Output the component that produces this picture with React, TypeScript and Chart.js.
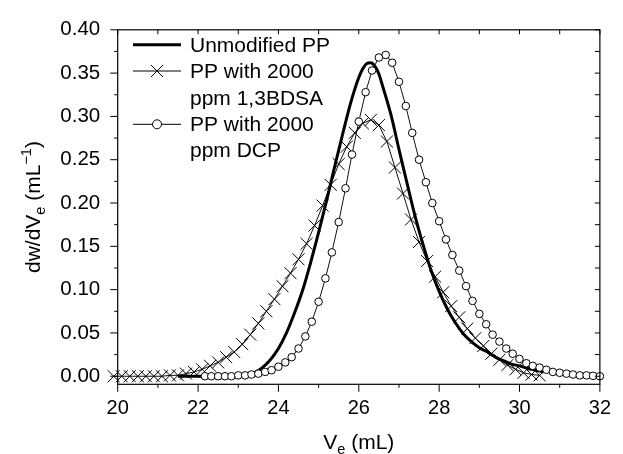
import React, { useEffect, useRef } from 'react';
import { Chart, registerables } from 'chart.js';

Chart.register(...registerables);

// ---------- data ----------
const seriesNames = ['Unmodified PP', 'PP with 2000 ppm 1,3BDSA', 'PP with 2000 ppm DCP'];
const legendLines = [['Unmodified PP'], ['PP with 2000', 'ppm 1,3BDSA'], ['PP with 2000', 'ppm DCP']];

const unmodX = [21.5, 22.0, 22.5, 23.0, 23.2, 23.4, 23.6, 23.8, 24.0, 24.2, 24.4, 24.6, 24.8, 25.0, 25.2, 25.4, 25.6, 25.8, 26.0, 26.1, 26.2, 26.3, 26.4, 26.5, 26.6, 26.8, 27.0, 27.2, 27.4, 27.6, 27.8, 28.0, 28.2, 28.4, 28.6, 28.8, 29.0, 29.2, 29.4, 29.6, 29.8, 30.0, 30.2, 30.4, 30.6];
const unmodY = [0, 0, 0, 0, 0.001, 0.004, 0.010, 0.019, 0.032, 0.050, 0.073, 0.099, 0.131, 0.166, 0.203, 0.242, 0.280, 0.316, 0.345, 0.355, 0.361, 0.362, 0.358, 0.349, 0.334, 0.302, 0.262, 0.223, 0.185, 0.152, 0.122, 0.098, 0.078, 0.062, 0.049, 0.040, 0.033, 0.028, 0.022, 0.018, 0.014, 0.012, 0.009, 0.007, 0.005];

const bdsaX = [19.9, 20.1, 20.3, 20.5, 20.7, 20.9, 21.1, 21.3, 21.5, 21.7, 21.9, 22.1, 22.3, 22.5, 22.7, 22.9, 23.1, 23.3, 23.5, 23.7, 23.9, 24.1, 24.3, 24.5, 24.7, 24.9, 25.1, 25.3, 25.5, 25.7, 25.9, 26.1, 26.3, 26.5, 26.7, 26.9, 27.1, 27.3, 27.5, 27.7, 27.9, 28.1, 28.3, 28.5, 28.7, 28.9, 29.1, 29.3, 29.5, 29.7, 29.9, 30.1, 30.3, 30.5];
const bdsaY = [0, 0, 0, 0, 0, 0, 0, 0.001, 0.001, 0.003, 0.005, 0.008, 0.012, 0.016, 0.022, 0.028, 0.037, 0.048, 0.061, 0.075, 0.089, 0.104, 0.119, 0.135, 0.153, 0.174, 0.197, 0.221, 0.245, 0.265, 0.281, 0.292, 0.296, 0.290, 0.271, 0.241, 0.211, 0.181, 0.155, 0.133, 0.115, 0.097, 0.081, 0.068, 0.055, 0.044, 0.035, 0.026, 0.019, 0.013, 0.008, 0.004, 0.002, 0.001];

const dcpX = [22.17, 22.33, 22.50, 22.67, 22.83, 23.00, 23.17, 23.33, 23.50, 23.67, 23.83, 24.00, 24.17, 24.33, 24.50, 24.67, 24.83, 25.00, 25.17, 25.33, 25.50, 25.67, 25.83, 26.00, 26.17, 26.33, 26.50, 26.67, 26.83, 27.00, 27.17, 27.33, 27.50, 27.67, 27.83, 28.00, 28.17, 28.33, 28.50, 28.67, 28.83, 29.00, 29.17, 29.33, 29.50, 29.67, 29.83, 30.00, 30.17, 30.33, 30.50, 30.67, 30.83, 31.00, 31.17, 31.33, 31.50, 31.67, 31.83, 32.00];
const dcpY = [0, 0, 0, 0, 0, 0.001, 0.001, 0.002, 0.003, 0.005, 0.007, 0.011, 0.016, 0.022, 0.032, 0.046, 0.063, 0.086, 0.113, 0.143, 0.178, 0.217, 0.256, 0.294, 0.328, 0.353, 0.368, 0.371, 0.362, 0.340, 0.312, 0.281, 0.250, 0.224, 0.200, 0.179, 0.158, 0.140, 0.122, 0.104, 0.087, 0.072, 0.060, 0.048, 0.040, 0.032, 0.026, 0.020, 0.015, 0.012, 0.010, 0.0075, 0.005, 0.004, 0.003, 0.002, 0.001, 0.001, 0.0005, 0];

const xTicks = [20, 22, 24, 26, 28, 30, 32];
const xMinorTicks = [21, 23, 25, 27, 29, 31];
const yTicks = [0, 0.05, 0.10, 0.15, 0.20, 0.25, 0.30, 0.35, 0.40];
const yMinorTicks = [0.025, 0.075, 0.125, 0.175, 0.225, 0.275, 0.325, 0.375];

const FONT = '"Liberation Sans", Arial, Helvetica, sans-serif';
const TEXT_SIZE = 21;

type Part = { t: string; size: number; dy: number };

function richWidth(ctx: CanvasRenderingContext2D, parts: Part[]) {
  let w = 0;
  for (const p of parts) {
    ctx.font = `${p.size}px ${FONT}`;
    w += ctx.measureText(p.t).width;
  }
  return w;
}
function drawRich(ctx: CanvasRenderingContext2D, parts: Part[], cx: number, baseY: number) {
  let x = cx - richWidth(ctx, parts) / 2;
  ctx.textAlign = 'left';
  ctx.textBaseline = 'alphabetic';
  for (const p of parts) {
    ctx.font = `${p.size}px ${FONT}`;
    ctx.fillText(p.t, x, baseY + p.dy);
    x += ctx.measureText(p.t).width;
  }
}

const decorPlugin = {
  id: 'decor',
  afterDatasetsDraw(chart: any) {
    const { ctx, chartArea: a, scales } = chart;
    const xs = scales.x;
    const ys = scales.y;
    ctx.save();
    ctx.strokeStyle = '#000';
    ctx.lineWidth = 1.2;
    ctx.strokeRect(a.left, a.top, a.right - a.left, a.bottom - a.top);

    ctx.lineWidth = 1;
    ctx.beginPath();
    for (const v of yTicks) {
      const py = ys.getPixelForValue(v);
      ctx.moveTo(a.left - 7.5, py); ctx.lineTo(a.left, py);
    }
    for (const v of yMinorTicks) {
      const py = ys.getPixelForValue(v);
      ctx.moveTo(a.left - 3.5, py); ctx.lineTo(a.left, py);
    }
    for (const v of [...yTicks, ...yMinorTicks]) {
      const py = ys.getPixelForValue(v);
      ctx.moveTo(a.right - 5, py); ctx.lineTo(a.right, py);
    }
    for (const v of xTicks) {
      const px = xs.getPixelForValue(v);
      ctx.moveTo(px, a.bottom); ctx.lineTo(px, a.bottom + 7.5);
    }
    for (const v of xMinorTicks) {
      const px = xs.getPixelForValue(v);
      ctx.moveTo(px, a.bottom); ctx.lineTo(px, a.bottom + 3.5);
    }
    for (const v of [...xTicks, ...xMinorTicks]) {
      const px = xs.getPixelForValue(v);
      ctx.moveTo(px, a.top); ctx.lineTo(px, a.top + 4.5);
    }
    ctx.stroke();

    // axis titles
    ctx.fillStyle = '#000';
    drawRich(ctx, [
      { t: 'V', size: TEXT_SIZE, dy: 0 },
      { t: 'e', size: 14.5, dy: 5 },
      { t: ' (mL)', size: TEXT_SIZE, dy: 0 },
    ], (a.left + a.right) / 2, 448.5);

    ctx.save();
    ctx.translate(39.5, (a.top + a.bottom) / 2);
    ctx.rotate(-Math.PI / 2);
    drawRich(ctx, [
      { t: 'dw/dV', size: TEXT_SIZE, dy: 0 },
      { t: 'e', size: 14.5, dy: 5 },
      { t: ' (mL', size: TEXT_SIZE, dy: 0 },
      { t: '\u22121', size: 14.5, dy: -8.5 },
      { t: ')', size: TEXT_SIZE, dy: 0 },
    ], 0, 0);
    ctx.restore();

    // legend
    const lx0 = 133, lx1 = 181, mx = 157, tx = 190;
    const rowY = [44.7, 71, 124.3];
    const base = [[52], [78.2, 104.6], [130.8, 157.1]];
    ctx.font = `${TEXT_SIZE}px ${FONT}`;
    ctx.textAlign = 'left';
    ctx.textBaseline = 'alphabetic';
    legendLines.forEach((lines, i) => {
      const y = rowY[i];
      ctx.strokeStyle = '#000';
      ctx.lineWidth = i === 0 ? 3 : 1;
      ctx.beginPath();
      ctx.moveTo(lx0, y); ctx.lineTo(lx1, y);
      ctx.stroke();
      ctx.lineWidth = 1;
      if (i === 1) {
        const d = 8.5 * Math.SQRT1_2;
        ctx.beginPath();
        ctx.moveTo(mx - d, y - d); ctx.lineTo(mx + d, y + d);
        ctx.moveTo(mx - d, y + d); ctx.lineTo(mx + d, y - d);
        ctx.stroke();
      } else if (i === 2) {
        ctx.beginPath();
        ctx.arc(mx, y, 4.5, 0, Math.PI * 2);
        ctx.fillStyle = '#fff';
        ctx.fill();
        ctx.stroke();
      }
      ctx.fillStyle = '#000';
      ctx.font = `${TEXT_SIZE}px ${FONT}`;
      lines.forEach((s, j) => ctx.fillText(s, tx, base[i][j]));
    });
    ctx.restore();
  },
};

function toPoints(xs: number[], ys: number[]) {
  return xs.map((x, i) => ({ x, y: ys[i] }));
}

export default function App() {
  const ref = useRef<HTMLCanvasElement>(null);
  useEffect(() => {
    Chart.defaults.font.family = FONT;
    Chart.defaults.font.size = 20;
    Chart.defaults.color = '#000';
    const chart = new Chart(ref.current as HTMLCanvasElement, {
      type: 'line',
      data: {
        datasets: [
          {
            label: seriesNames[2],
            data: toPoints(dcpX, dcpY),
            borderColor: '#111',
            borderWidth: 1,
            pointStyle: 'circle',
            pointRadius: 3.8,
            pointBackgroundColor: '#fff',
            pointBorderColor: '#000',
            pointBorderWidth: 1,
            clip: false as any,
            order: 0,
          },
          {
            label: seriesNames[0],
            data: toPoints(unmodX, unmodY),
            borderColor: '#000',
            borderWidth: 3,
            pointRadius: 0,
            cubicInterpolationMode: 'monotone',
            clip: false as any,
            order: 1,
          },
          {
            label: seriesNames[1],
            data: toPoints(bdsaX, bdsaY),
            borderColor: '#111',
            borderWidth: 1,
            pointStyle: 'crossRot',
            pointRadius: 8.5,
            pointBorderColor: '#000',
            pointBorderWidth: 1,
            clip: false as any,
            order: 2,
          },
        ],
      },
      options: {
        animation: false,
        responsive: false,
        events: [],
        layout: { padding: { left: 0, right: 13, top: 20.7, bottom: 0 } },
        plugins: { legend: { display: false }, tooltip: { enabled: false } },
        scales: {
          x: {
            type: 'linear',
            min: 20,
            max: 32,
            grid: { display: false, drawTicks: false },
            border: { display: false },
            ticks: { padding: 12, font: { size: 20, family: FONT }, color: '#000', maxRotation: 0, callback: (v: any) => String(v) },
            afterBuildTicks: (s: any) => { s.ticks = xTicks.map((v) => ({ value: v })); },
            afterFit: (s: any) => { s.height = 454 - 384.3; },
          },
          y: {
            type: 'linear',
            min: -0.0093,
            max: 0.4,
            grid: { display: false, drawTicks: false },
            border: { display: false },
            ticks: { padding: 17.5, font: { size: 20.5, family: FONT }, color: '#000', callback: (v: any) => Number(v).toFixed(2) },
            afterBuildTicks: (s: any) => { s.ticks = yTicks.map((v) => ({ value: v })); },
            afterFit: (s: any) => { s.width = 117.7; },
          },
        },
      },
      plugins: [decorPlugin],
    });
    return () => chart.destroy();
  }, []);
  return (
    <div style={{ position: 'absolute', left: 0, top: 0, width: 623, height: 454, background: '#fff' }}>
      <canvas ref={ref} width={623} height={454} style={{ display: 'block' }} />
    </div>
  );
}
